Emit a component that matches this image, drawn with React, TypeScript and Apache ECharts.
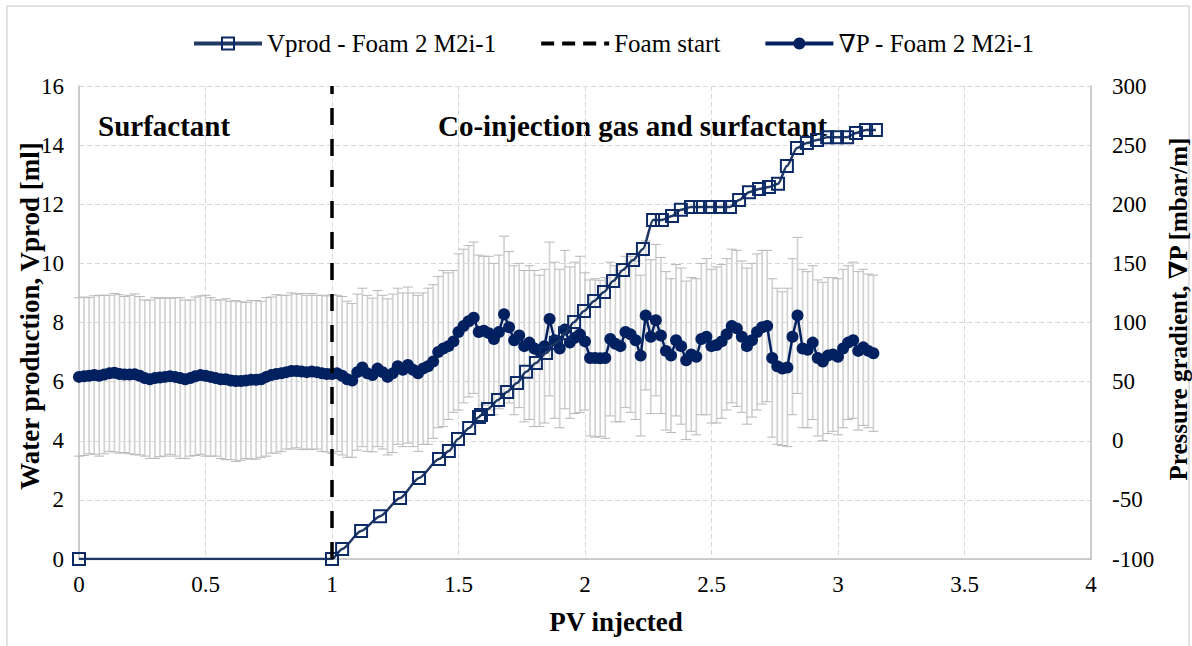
import { useEffect, useRef } from "react";
import * as echarts from "echarts";

// Pressure gradient samples, one every PV_STEP of injected pore volume
const PV_STEP = 0.02;

// ∇P [mbar/m], surfactant phase (PV 0 – 1.00)
const dpSurfactant = [
  54, 54.5, 55, 55.6, 55, 56, 57, 57.5, 56.5, 56,
  56, 56.2, 55, 53, 52, 53, 53.5, 54, 54.5, 54,
  53, 52, 53, 54.5, 55.5, 55, 54, 53, 52, 52,
  51, 50.5, 50.5, 51, 51.5, 51.5, 52, 54, 55.5, 56.5,
  57, 58, 59, 59, 58.5, 58, 58.5, 58, 57, 56.5,
  56.4,
];

// ∇P [mbar/m], co-injection phase (PV 1.02 – 3.14)
const dpCoinjection = [
  57, 55, 52, 51, 58, 62, 57, 55.6, 61, 58,
  54, 57, 63, 60, 64, 60, 57, 61, 63, 67,
  75, 78, 80, 84, 92, 97, 101, 104, 92, 93,
  91, 86, 92, 107, 96, 85, 89, 80, 83, 78,
  76, 80, 103, 85, 78, 94, 83, 87, 90, 84,
  70, 70, 69.7, 70, 86, 82, 80, 92, 90, 85,
  72, 106, 88, 102, 89, 76, 72, 85, 80, 68,
  73, 71, 86, 88, 80, 81, 84, 90, 97, 95,
  88, 80, 85, 92, 96, 97, 70, 63, 61, 62,
  88, 106, 78, 77, 83, 70, 67, 72, 73, 71,
  78, 83, 85, 76, 79, 76, 74,
];

// Standard deviation of ∇P [mbar/m] (error bars)
const dpErrSurfactant = [
  67, 67, 66, 67, 68, 67, 66, 67, 67, 66,
  67, 68, 67, 66, 67, 68, 67, 67, 66, 67,
  68, 67, 66, 67, 67, 68, 67, 66, 67, 68,
  67, 68, 67, 66, 67, 67, 66, 67, 66, 67,
  66, 65, 66, 65, 66, 65, 66, 65, 66, 66,
  67,
];
const dpErrCoinjection = [
  66, 67, 66, 65, 66, 67, 66, 65, 66, 65,
  66, 67, 66, 65, 66, 65, 66, 64, 66, 65,
  64, 66, 62, 60, 66, 65, 64, 64, 65, 63,
  65, 64, 65, 66, 64, 63, 61, 64, 65, 66,
  64, 65, 65, 66, 67, 67, 64, 64, 66, 58,
  66, 67, 66, 68, 65, 66, 64, 64, 66, 67,
  68, 63, 65, 64, 66, 67, 65, 64, 66, 67,
  65, 66, 64, 66, 65, 66, 65, 64, 65, 66,
  64, 66, 65, 66, 65, 64, 67, 66, 65, 67,
  66, 66, 67, 66, 65, 66, 67, 66, 65, 66,
  67, 65, 66, 67, 66, 65, 66,
];

// Cumulative water production
const vprodPV = [
  0, 1.0, 1.04, 1.115, 1.19, 1.269, 1.344, 1.423,
  1.462, 1.498, 1.542, 1.581, 1.589, 1.617, 1.656, 1.692,
  1.731, 1.767, 1.806, 1.846, 1.885, 1.921, 1.957, 1.996,
  2.036, 2.075, 2.111, 2.15, 2.19, 2.229, 2.269, 2.304,
  2.344, 2.379, 2.419, 2.455, 2.494, 2.534, 2.573, 2.609,
  2.648, 2.688, 2.727, 2.763, 2.798, 2.838, 2.877, 2.917,
  2.957, 2.996, 3.036, 3.071, 3.111, 3.15,
];
const vprodMl = [
  0, 0, 0.34, 0.95, 1.45, 2.06, 2.74, 3.38,
  3.65, 4.06, 4.43, 4.8, 4.87, 5.07, 5.38, 5.65,
  5.95, 6.33, 6.63, 6.97, 7.31, 7.64, 8.02, 8.39,
  8.73, 9.03, 9.4, 9.78, 10.11, 10.49, 11.47, 11.47,
  11.6, 11.81, 11.91, 11.91, 11.91, 11.91, 11.91, 12.14,
  12.41, 12.52, 12.58, 12.69, 13.29, 13.9, 14.07, 14.17,
  14.27, 14.27, 14.27, 14.41, 14.51, 14.51,
];

// Foam start marker line
const foamStartPV = 1;
const foamStartRange = [0, 16];

const SERIES_VPROD = "Vprod - Foam 2 M2i-1";
const SERIES_FOAM = "Foam start";
const SERIES_DP = "∇P - Foam 2 M2i-1";

const FONT = "Liberation Serif, Times New Roman, DejaVu Serif, serif";
const NAVY = "#002060";
const VPROD_BLUE = "#1f3864";
const GRID_GRAY = "#d9d9d9";
const AXIS_GRAY = "#bfbfbf";

export default function App() {
  const ref = useRef<HTMLDivElement>(null);

  useEffect(() => {
    if (!ref.current) return;
    const chart = echarts.init(ref.current, undefined, { renderer: "svg" });

    const dp = [...dpSurfactant, ...dpCoinjection];
    const err = [...dpErrSurfactant, ...dpErrCoinjection];
    const pvAt = (i: number) => Math.round(i * PV_STEP * 100) / 100;
    const dpPoints = dp.map((v, i) => [pvAt(i), v]);
    const errBars = dp.map((v, i) => [pvAt(i), v - err[i], v + err[i]]);
    const vprodPoints = vprodPV.map((x, i) => [x, vprodMl[i]]);

    const tickLabel = { fontFamily: FONT, fontSize: 23, color: "#000" };
    const dashedGrid = {
      show: true,
      lineStyle: { color: GRID_GRAY, type: [5, 3] as number[], width: 1 },
    };
    const solidAxis = { show: true, lineStyle: { color: AXIS_GRAY, width: 1.5 } };

    chart.setOption({
      animation: false,
      backgroundColor: "#fff",
      textStyle: { fontFamily: FONT },
      grid: { left: 79, right: 101, top: 86, bottom: 87 },
      legend: {
        left: 192,
        top: 31,
        padding: 0,
        itemWidth: 68,
        itemHeight: 15,
        itemGap: 43,
        textStyle: { fontFamily: FONT, fontSize: 25, color: "#000" },
        data: [
          { name: SERIES_VPROD, lineStyle: { width: 4, color: VPROD_BLUE } },
          {
            name: SERIES_FOAM,
            lineStyle: { type: [13, 8], width: 4, color: "#000" },
            itemStyle: { opacity: 0 },
          },
          { name: SERIES_DP, lineStyle: { width: 4, color: NAVY } },
        ],
      },
      xAxis: {
        type: "value",
        min: 0,
        max: 4,
        interval: 0.5,
        axisLine: solidAxis,
        axisTick: { show: false },
        axisLabel: { ...tickLabel, margin: 14 },
        splitLine: dashedGrid,
      },
      yAxis: [
        {
          type: "value",
          position: "left",
          min: 0,
          max: 16,
          interval: 2,
          axisLine: solidAxis,
          axisTick: { show: false },
          axisLabel: { ...tickLabel, margin: 15 },
          splitLine: dashedGrid,
        },
        {
          type: "value",
          position: "right",
          min: -100,
          max: 300,
          interval: 50,
          axisLine: solidAxis,
          axisTick: { show: false },
          axisLabel: { ...tickLabel, margin: 21 },
          splitLine: { show: false },
        },
      ],
      series: [
        {
          name: "∇P std",
          type: "custom",
          xAxisIndex: 0,
          yAxisIndex: 1,
          z: 1,
          silent: true,
          data: errBars,
          encode: { x: 0, y: [1, 2] },
          renderItem: (_params: any, api: any) => {
            const x = api.value(0);
            const lo = api.coord([x, api.value(1)]);
            const hi = api.coord([x, api.value(2)]);
            const hw = 5;
            return {
              type: "group",
              children: [
                {
                  type: "line",
                  shape: { x1: hi[0], y1: hi[1], x2: lo[0], y2: lo[1] },
                  style: { stroke: "#d2d2d2", lineWidth: 1.7 },
                },
                {
                  type: "line",
                  shape: { x1: hi[0] - hw, y1: hi[1], x2: hi[0] + hw, y2: hi[1] },
                  style: { stroke: "#b8b8b8", lineWidth: 1 },
                },
                {
                  type: "line",
                  shape: { x1: lo[0] - hw, y1: lo[1], x2: lo[0] + hw, y2: lo[1] },
                  style: { stroke: "#b8b8b8", lineWidth: 1 },
                },
              ],
            };
          },
        },
        {
          name: SERIES_DP,
          type: "line",
          xAxisIndex: 0,
          yAxisIndex: 1,
          z: 3,
          data: dpPoints,
          symbol: "circle",
          symbolSize: 12,
          itemStyle: { color: NAVY },
          lineStyle: { color: NAVY, width: 2.5 },
        },
        {
          name: SERIES_VPROD,
          type: "line",
          xAxisIndex: 0,
          yAxisIndex: 0,
          z: 4,
          data: vprodPoints,
          smooth: 0.25,
          smoothMonotone: "x",
          symbol: "rect",
          symbolSize: 12,
          itemStyle: { color: "rgba(255,255,255,0)", borderColor: "#0c2a66", borderWidth: 2 },
          lineStyle: { color: VPROD_BLUE, width: 2.5 },
        },
        {
          name: SERIES_FOAM,
          type: "line",
          xAxisIndex: 0,
          yAxisIndex: 0,
          z: 5,
          data: foamStartRange.map((y) => [foamStartPV, y]),
          symbol: "none",
          itemStyle: { color: "#000" },
          lineStyle: { color: "#000", width: 3.5, type: [17, 14] },
        },
      ],
      graphic: [
        {
          type: "rect",
          silent: true,
          z: -10,
          shape: { x: 7, y: 6, width: 1182, height: 700 },
          style: { fill: "none", stroke: GRID_GRAY, lineWidth: 1.5 },
        },
        {
          type: "text",
          x: 98,
          y: 126,
          style: {
            text: "Surfactant",
            font: `bold 29px ${FONT}`,
            fill: "#000",
            textVerticalAlign: "middle",
          },
        },
        {
          type: "text",
          x: 438,
          y: 126,
          style: {
            text: "Co-injection gas and surfactant",
            font: `bold 29px ${FONT}`,
            fill: "#000",
            textVerticalAlign: "middle",
          },
        },
        {
          type: "text",
          x: 616,
          y: 622,
          style: {
            text: "PV injected",
            font: `bold 27px ${FONT}`,
            fill: "#000",
            textAlign: "center",
            textVerticalAlign: "middle",
          },
        },
        {
          type: "text",
          x: 30,
          y: 316,
          rotation: Math.PI / 2,
          style: {
            text: "Water production, Vprod [ml]",
            font: `bold 27px ${FONT}`,
            fill: "#000",
            textAlign: "center",
            textVerticalAlign: "middle",
          },
        },
        {
          type: "text",
          x: 1178,
          y: 309,
          rotation: Math.PI / 2,
          style: {
            text: "Pressure gradient, ∇P [mbar/m]",
            font: `bold 25px ${FONT}`,
            fill: "#000",
            textAlign: "center",
            textVerticalAlign: "middle",
          },
        },
      ],
    });

    return () => chart.dispose();
  }, []);

  return (
    <div style={{ position: "fixed", left: 0, top: 0, width: 1192, height: 646, background: "#fff" }}>
      <div ref={ref} style={{ width: 1192, height: 646 }} />
    </div>
  );
}
